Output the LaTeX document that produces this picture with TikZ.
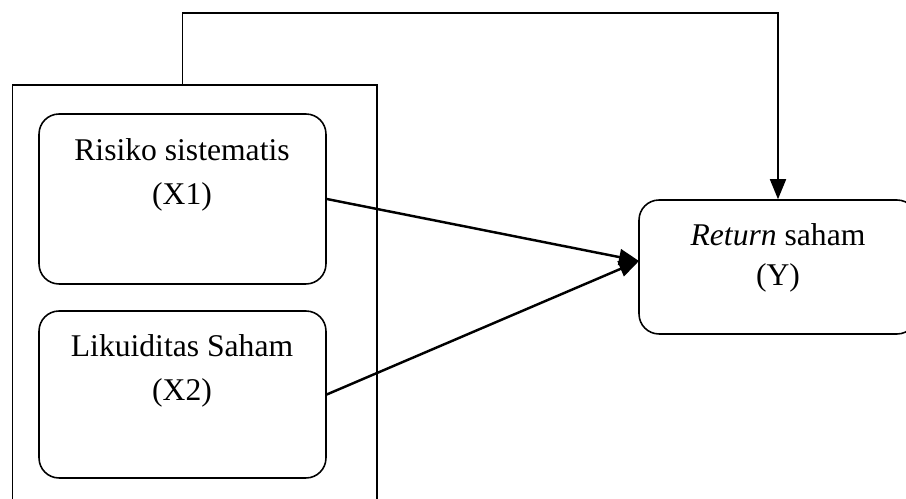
\documentclass[tikz,border=0pt]{standalone}
\usepackage{fontspec}
\setmainfont{Liberation Serif}
\usetikzlibrary{arrows.meta,positioning}
\begin{document}
\begin{tikzpicture}[x=0.02cm, y=-0.02cm, >={Triangle[length=0.4cm,width=0.32cm]},
  varbox/.style={draw, line width=0.9pt, rounded corners=0.4cm, minimum width=5.74cm, minimum height=3.4cm},
  vartext/.style={align=center, font=\fontsize{18}{25}\selectfont},
  link/.style={line width=1.4pt, ->}]
  \useasboundingbox (0,0) rectangle (906,499);
  \clip (0,0) rectangle (906,499);
  % kotak luar
  \node[draw, line width=0.9pt, minimum width=7.29cm, minimum height=9cm, anchor=north west, inner sep=0pt] (grp) at (11.5,84) {};
  % variabel bebas
  \node[varbox] (x1) at (182.5,199) {};
  \node[varbox, minimum height=3.34cm] (x2) at (182.5,394.5) {};
  \node[vartext] (x1t) at (182,175) {Risiko sistematis\\(X1)};
  \node[vartext] (x2t) at (182,370.5) {Likuiditas Saham\\(X2)};
  % variabel terikat
  \node[varbox, minimum width=5.56cm, minimum height=2.68cm] (y) at (778,267) {};
  \node[vartext, font=\fontsize{18}{23}\selectfont] (yt) at (778,258) {\textit{Return} saham\\(Y)};
  \coordinate (yin) at (639,261);
  \draw[link] (x1.east) -- (yin);
  \draw[link] (x2.east) -- (yin);
  \draw[link, line width=1pt] (x1 |- grp.north) -- ++(0,-71) -| (y.north);
\end{tikzpicture}
\end{document}
